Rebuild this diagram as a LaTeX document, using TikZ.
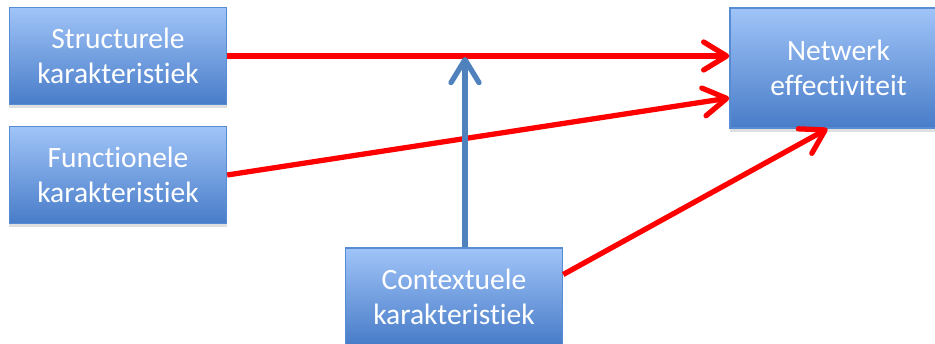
\documentclass[tikz,border=0pt]{standalone}
\usepackage{fontspec}
\setmainfont{Carlito}[Ligatures=NoCommon]
\usetikzlibrary{arrows.meta,shadows}

\definecolor{boxtop}{RGB}{160,196,248}
\definecolor{boxbot}{RGB}{72,124,200}
\definecolor{boxline}{RGB}{88,140,210}
\definecolor{linkblue}{RGB}{79,129,189}

\tikzset{
  box/.style={draw=boxline, line width=0.4pt, top color=boxtop, bottom color=boxbot,
    minimum width=2.17cm, minimum height=0.97cm, align=center, text=white,
    font=\fontsize{8.4}{10}\selectfont,
    drop shadow={shadow xshift=0cm, shadow yshift=-0.04cm, opacity=0.25}},
  redarrow/.style={draw=red, line width=1.5pt,
    -{Straight Barb[round, length=0.23cm, width=0.28cm]}},
  bluearrow/.style={draw=linkblue, line width=1.5pt,
    -{Straight Barb[round, length=0.23cm, width=0.28cm]}}
}

\begin{document}
\begin{tikzpicture}
    \useasboundingbox[fill=white] (0,0) rectangle (9.35,3.44);

    % Left column
    % -----------
    \node[box] (struct) at (1.18,2.88) {Structurele\\karakteristiek};
    \node[box] (func)   at (1.18,1.69) {Functionele\\karakteristiek};

    % Right and bottom
    % ----------------
    \node[box, minimum height=1.2cm] (netw) at (8.385,2.76) {Netwerk\\effectiviteit};
    \node[box] (ctx) at (4.54,0.475) {Contextuele\\karakteristiek};

    % Draw Paths
    % ----------
    \coordinate (join) at (4.65,2.87);
    \draw[redarrow] (struct.east) -- (struct.east -| netw.west);
    \draw[redarrow] (func.east) -- ([yshift=-0.3cm]netw.west);
    \draw[redarrow] ([yshift=0.22cm]ctx.east) -- ([xshift=-0.11cm]netw.south);
    \draw[bluearrow] (ctx.north -| join) -- (join);

\end{tikzpicture}
\end{document}
